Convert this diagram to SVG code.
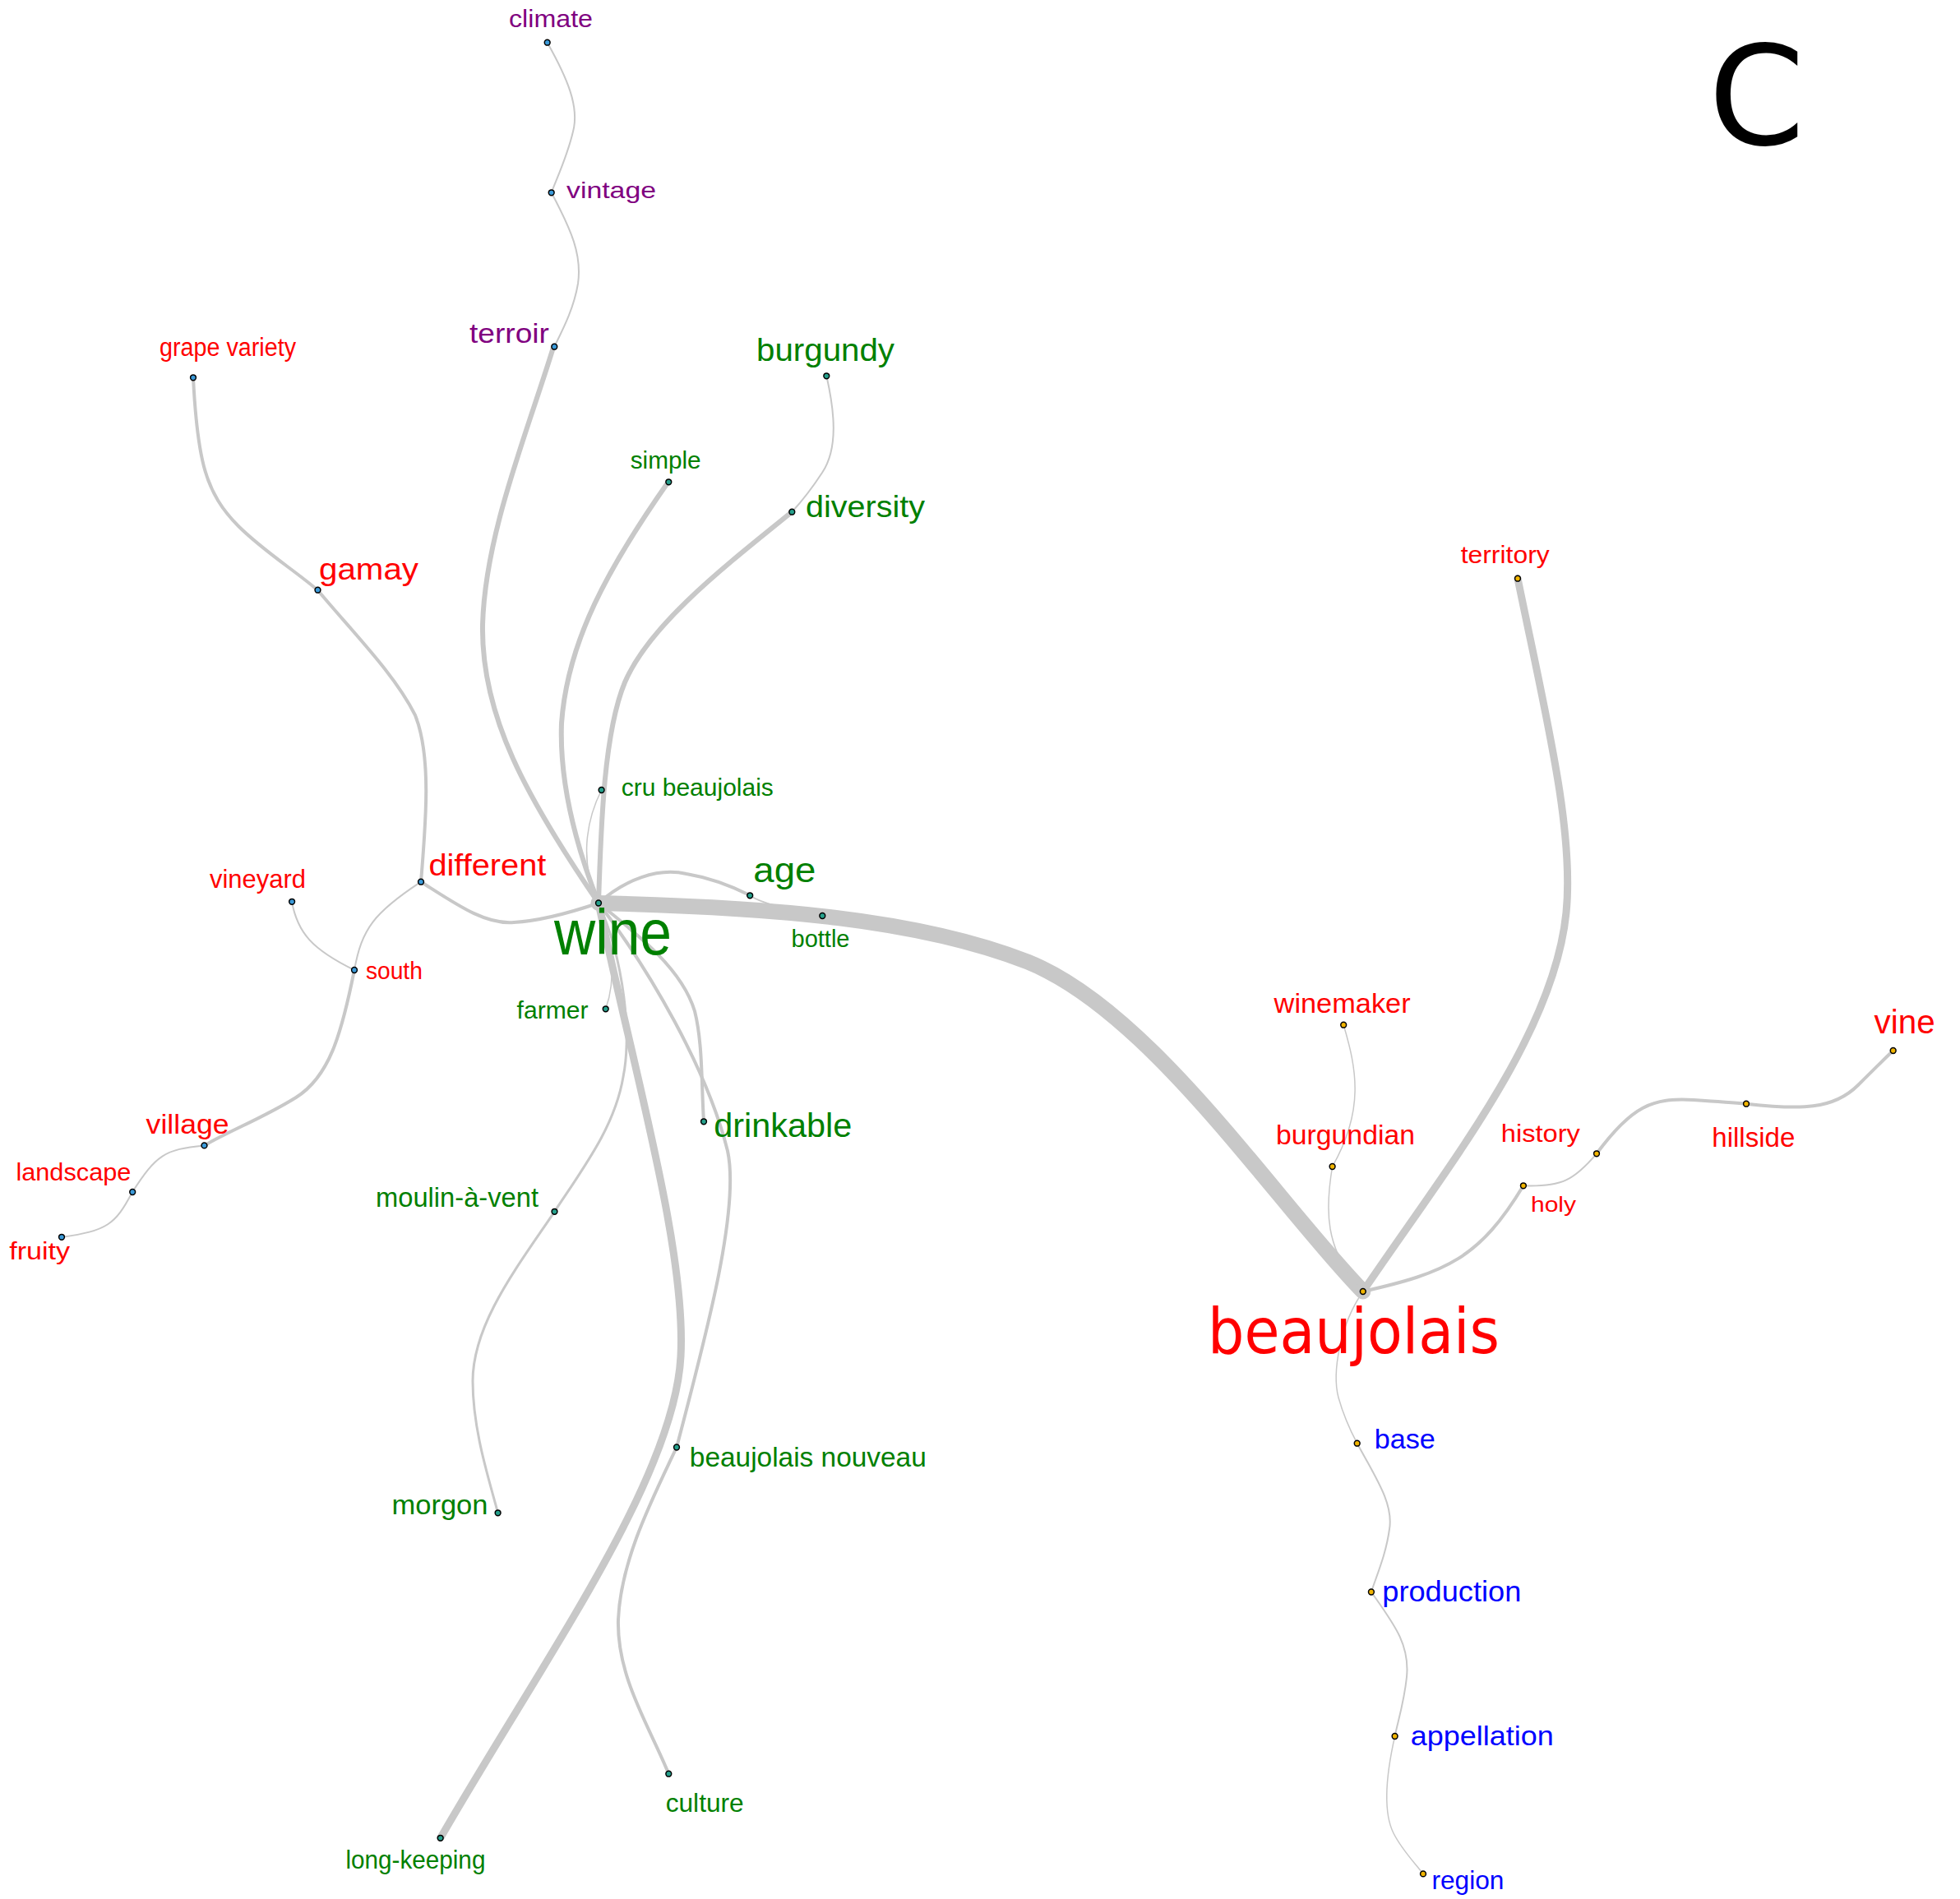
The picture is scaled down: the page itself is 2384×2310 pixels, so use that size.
<svg xmlns="http://www.w3.org/2000/svg" width="2384" height="2310" viewBox="0 0 2384 2310">
<style>
text{font-family:"Liberation Sans",Arial,sans-serif;}
.e{fill:none;stroke:#c8c8c8;stroke-linecap:round;}
.d{stroke:#000;stroke-width:1.5;}
.b{fill:#3b9ad9;}
.t{fill:#26a08c;}
.o{fill:#f0b400;}
.pu{fill:#800080;}
.gr{fill:#008000;}
.rd{fill:#ff0000;}
.bl{fill:#0000ff;}
</style>
<rect width="2384" height="2310" fill="#fff"/>
<g id="connectors">
<path class="e" stroke-width="2" d="M665.7,51.7 C690,95 705,130 697,160 C690,190 678,215 670.7,234.3"/>
<path class="e" stroke-width="2" d="M670.7,234.3 C695,280 708,310 703,345 C698,375 685,400 674.3,421.7"/>
<path class="e" stroke-width="6" d="M673.5,421 C640,530 590,650 587,760 C585,870 640,970 728,1098.5"/>
<path class="e" stroke-width="4" d="M235,459 C240,560 250,600 290,640 C320,670 360,695 386.5,718"/>
<path class="e" stroke-width="4" d="M386.5,718 C430,770 480,820 505,870 C525,920 518,1000 512,1072.7"/>
<path class="e" stroke-width="4" d="M512,1072.7 C555,1100 590,1125 625,1122 C660,1120 700,1108 728,1098.5"/>
<path class="e" stroke-width="2" d="M512,1072.7 C455,1110 440,1130 431,1180"/>
<path class="e" stroke-width="2" d="M355,1097 C362,1135 380,1155 431,1180"/>
<path class="e" stroke-width="4" d="M431,1180 C415,1260 400,1310 360,1335 C320,1360 280,1375 248.5,1393.4"/>
<path class="e" stroke-width="2" d="M248.5,1393.4 C200,1398 190,1405 161,1450"/>
<path class="e" stroke-width="2" d="M161,1450 C140,1490 130,1497 75,1505"/>
<path class="e" stroke-width="6" d="M813,586 C740,690 690,780 683,880 C680,960 705,1040 728,1098.5"/>
<path class="e" stroke-width="2" d="M1005.3,457.3 C1015,500 1020,545 1000,575 C985,598 975,610 963.3,622.7"/>
<path class="e" stroke-width="6" d="M963.3,622.7 C880,690 790,760 760,830 C735,890 731,1000 728,1098.5"/>
<path class="e" stroke-width="1.5" d="M731.6,961 C712,1000 705,1050 728,1098.5"/>
<path class="e" stroke-width="4" d="M728,1098.5 C760,1070 800,1055 835,1063 C865,1068 890,1078 912,1089"/>
<path class="e" stroke-width="2" d="M912.2,1089.3 Q930,1102 1000,1114"/>
<path class="e" stroke-width="1.5" d="M728,1098.5 C745,1150 750,1190 736.7,1227.3"/>
<path class="e" stroke-width="4" d="M728,1098.5 C780,1140 830,1180 845,1230 C855,1270 853,1320 856,1364.3"/>
<path class="e" stroke-width="4" d="M728,1098.5 C790,1180 860,1300 885,1400 C900,1470 860,1620 823,1760.5"/>
<path class="e" stroke-width="4" d="M823,1760.5 C790,1830 755,1900 752,1970 C750,2040 790,2100 813.3,2157.7"/>
<path class="e" stroke-width="3" d="M728,1098.5 C760,1170 768,1260 758,1310 C748,1370 710,1420 674.5,1473.8"/>
<path class="e" stroke-width="3" d="M674.5,1473.8 C630,1540 575,1610 575,1680 C575,1740 595,1800 605.6,1840.3"/>
<path class="e" stroke-width="9" d="M728,1098.5 C770,1300 835,1520 828,1650 C820,1800 660,2020 535.7,2235.8"/>
<path class="e" stroke-width="19" d="M728,1098.5 C920,1103 1110,1115 1250,1170 C1400,1230 1550,1460 1657.8,1571"/>
<path class="e" stroke-width="9" d="M1846,703.7 C1880,870 1915,1010 1905,1110 C1890,1260 1760,1420 1657.8,1571"/>
<path class="e" stroke-width="1.5" d="M1634.2,1246.7 C1650,1300 1660,1350 1620.6,1419"/>
<path class="e" stroke-width="1.5" d="M1620.6,1419 C1612,1470 1610,1520 1657.8,1571"/>
<path class="e" stroke-width="4" d="M1657.8,1571 C1760,1548 1800,1530 1852.9,1442.3"/>
<path class="e" stroke-width="2" d="M1852.9,1442.3 C1900,1444 1915,1435 1942,1403.3"/>
<path class="e" stroke-width="4" d="M1942,1403.3 C1985,1345 2010,1335 2060,1338 C2090,1340 2105,1341 2124,1342.7"/>
<path class="e" stroke-width="4" d="M2124,1342.7 C2190,1350 2230,1350 2260,1320 C2280,1300 2290,1290 2302.7,1278"/>
<path class="e" stroke-width="1.5" d="M1658,1571 C1630,1610 1620,1670 1628,1700 C1635,1725 1645,1745 1650.7,1755.7"/>
<path class="e" stroke-width="2" d="M1650.7,1755.7 C1675,1800 1695,1830 1690,1860 C1686,1890 1675,1915 1667.9,1936.5"/>
<path class="e" stroke-width="2" d="M1667.9,1936.5 C1695,1975 1715,2000 1711,2040 C1708,2070 1700,2095 1696.6,2112"/>
<path class="e" stroke-width="1.5" d="M1696.6,2112 C1688,2150 1680,2200 1695,2230 C1705,2250 1720,2265 1731,2279.4"/>
</g>
<g id="n-climate"><circle class="d b" cx="665.7" cy="51.7" r="3.4"/><text class="pu" x="619" y="33" font-size="29" textLength="102" lengthAdjust="spacingAndGlyphs">climate</text></g>
<g id="n-vintage"><circle class="d b" cx="670.7" cy="234.3" r="3.4"/><text class="pu" x="689" y="240.5" font-size="28" textLength="109" lengthAdjust="spacingAndGlyphs">vintage</text></g>
<g id="n-terroir"><circle class="d b" cx="674.3" cy="421.7" r="3.4"/><text class="pu" x="571" y="416.5" font-size="34" textLength="97" lengthAdjust="spacingAndGlyphs">terroir</text></g>
<g id="n-grape-variety"><circle class="d b" cx="235" cy="459.3" r="3.4"/><text class="rd" x="194" y="433" font-size="31" textLength="166" lengthAdjust="spacingAndGlyphs">grape variety</text></g>
<g id="n-gamay"><circle class="d b" cx="386.5" cy="717.7" r="3.4"/><text class="rd" x="388" y="705" font-size="37" textLength="121" lengthAdjust="spacingAndGlyphs">gamay</text></g>
<g id="n-burgundy"><circle class="d t" cx="1005.3" cy="457.3" r="3.4"/><text class="gr" x="920" y="439.3" font-size="39" textLength="168" lengthAdjust="spacingAndGlyphs">burgundy</text></g>
<g id="n-simple"><circle class="d t" cx="813.3" cy="586.3" r="3.4"/><text class="gr" x="766.7" y="570" font-size="30" textLength="86" lengthAdjust="spacingAndGlyphs">simple</text></g>
<g id="n-diversity"><circle class="d t" cx="963.3" cy="622.7" r="3.4"/><text class="gr" x="980" y="629.3" font-size="37" textLength="145" lengthAdjust="spacingAndGlyphs">diversity</text></g>
<g id="n-cru-beaujolais"><circle class="d t" cx="731.6" cy="961" r="3.4"/><text class="gr" x="755.8" y="968.3" font-size="29" textLength="185" lengthAdjust="spacingAndGlyphs">cru beaujolais</text></g>
<g id="n-different"><circle class="d b" cx="512" cy="1072.7" r="3.4"/><text class="rd" x="521.4" y="1065" font-size="37" textLength="143" lengthAdjust="spacingAndGlyphs">different</text></g>
<g id="n-age"><circle class="d t" cx="912.2" cy="1089.3" r="3.4"/><text class="gr" x="916.3" y="1073.3" font-size="43" textLength="76" lengthAdjust="spacingAndGlyphs">age</text></g>
<g id="n-bottle"><circle class="d t" cx="1000.3" cy="1114" r="3.4"/><text class="gr" x="962.5" y="1151.7" font-size="29" textLength="71" lengthAdjust="spacingAndGlyphs">bottle</text></g>
<g id="n-vineyard"><circle class="d b" cx="355.1" cy="1096.8" r="3.4"/><text class="rd" x="255" y="1080.4" font-size="32" textLength="117" lengthAdjust="spacingAndGlyphs">vineyard</text></g>
<g id="n-south"><circle class="d b" cx="431" cy="1180" r="3.4"/><text class="rd" x="444.9" y="1191" font-size="29" textLength="69" lengthAdjust="spacingAndGlyphs">south</text></g>
<g id="n-farmer"><circle class="d t" cx="736.7" cy="1227.3" r="3.4"/><text class="gr" x="628.6" y="1239" font-size="30" textLength="87" lengthAdjust="spacingAndGlyphs">farmer</text></g>
<g id="n-drinkable"><circle class="d t" cx="856" cy="1364.3" r="3.4"/><text class="gr" x="868.3" y="1383.3" font-size="40" textLength="168" lengthAdjust="spacingAndGlyphs">drinkable</text></g>
<g id="n-village"><circle class="d b" cx="248.5" cy="1393.4" r="3.4"/><text class="rd" x="177.6" y="1379" font-size="33" textLength="101" lengthAdjust="spacingAndGlyphs">village</text></g>
<g id="n-landscape"><circle class="d b" cx="161.2" cy="1450" r="3.4"/><text class="rd" x="19.4" y="1435.5" font-size="30" textLength="140" lengthAdjust="spacingAndGlyphs">landscape</text></g>
<g id="n-fruity"><circle class="d b" cx="75" cy="1504.8" r="3.4"/><text class="rd" x="11.2" y="1532" font-size="30" textLength="74" lengthAdjust="spacingAndGlyphs">fruity</text></g>
<g id="n-moulin-a-vent"><circle class="d t" cx="674.5" cy="1473.8" r="3.4"/><text class="gr" x="457" y="1467.5" font-size="33" textLength="198" lengthAdjust="spacingAndGlyphs">moulin-à-vent</text></g>
<g id="n-morgon"><circle class="d t" cx="605.6" cy="1840.3" r="3.4"/><text class="gr" x="476.5" y="1842" font-size="34" textLength="117" lengthAdjust="spacingAndGlyphs">morgon</text></g>
<g id="n-beaujolais-nouveau"><circle class="d t" cx="823" cy="1760.5" r="3.4"/><text class="gr" x="838.8" y="1783.5" font-size="33" textLength="288" lengthAdjust="spacingAndGlyphs">beaujolais nouveau</text></g>
<g id="n-culture"><circle class="d t" cx="813.3" cy="2157.7" r="3.4"/><text class="gr" x="809.7" y="2203.7" font-size="32" textLength="95" lengthAdjust="spacingAndGlyphs">culture</text></g>
<g id="n-long-keeping"><circle class="d t" cx="535.7" cy="2235.8" r="3.4"/><text class="gr" x="420.4" y="2272.6" font-size="32" textLength="170" lengthAdjust="spacingAndGlyphs">long-keeping</text></g>
<g id="n-wine"><circle class="d t" cx="728" cy="1098.5" r="3.4"/><text class="gr" x="674" y="1161" font-size="77" textLength="143" lengthAdjust="spacingAndGlyphs">wine</text></g>
<g id="n-territory"><circle class="d o" cx="1846" cy="703.7" r="3.4"/><text class="rd" x="1776.7" y="685" font-size="29" textLength="108" lengthAdjust="spacingAndGlyphs">territory</text></g>
<g id="n-winemaker"><circle class="d o" cx="1634.2" cy="1246.7" r="3.4"/><text class="rd" x="1549.6" y="1231.7" font-size="33" textLength="166" lengthAdjust="spacingAndGlyphs">winemaker</text></g>
<g id="n-burgundian"><circle class="d o" cx="1620.6" cy="1419" r="3.4"/><text class="rd" x="1552" y="1391.7" font-size="33" textLength="169" lengthAdjust="spacingAndGlyphs">burgundian</text></g>
<g id="n-history"><circle class="d o" cx="1942" cy="1403.3" r="3.4"/><text class="rd" x="1825.8" y="1389.3" font-size="30" textLength="96" lengthAdjust="spacingAndGlyphs">history</text></g>
<g id="n-holy"><circle class="d o" cx="1852.9" cy="1442.3" r="3.4"/><text class="rd" x="1862" y="1474" font-size="26" textLength="55" lengthAdjust="spacingAndGlyphs">holy</text></g>
<g id="n-hillside"><circle class="d o" cx="2124" cy="1342.7" r="3.4"/><text class="rd" x="2082.3" y="1395" font-size="33" textLength="101" lengthAdjust="spacingAndGlyphs">hillside</text></g>
<g id="n-vine"><circle class="d o" cx="2302.7" cy="1278" r="3.4"/><text class="rd" x="2279.6" y="1257.3" font-size="41" textLength="74" lengthAdjust="spacingAndGlyphs">vine</text></g>
<g id="n-beaujolais"><circle class="d o" cx="1657.8" cy="1571" r="3.4"/><text class="rd" x="1469" y="1645.7" font-size="76" textLength="355" lengthAdjust="spacingAndGlyphs" style="font-family:'DejaVu Sans',sans-serif">beaujolais</text></g>
<g id="n-base"><circle class="d o" cx="1650.7" cy="1755.7" r="3.4"/><text class="bl" x="1671.7" y="1762" font-size="34" textLength="74" lengthAdjust="spacingAndGlyphs">base</text></g>
<g id="n-production"><circle class="d o" cx="1667.9" cy="1936.5" r="3.4"/><text class="bl" x="1681.3" y="1948" font-size="35" textLength="169" lengthAdjust="spacingAndGlyphs">production</text></g>
<g id="n-appellation"><circle class="d o" cx="1696.6" cy="2112" r="3.4"/><text class="bl" x="1715.7" y="2123" font-size="34" textLength="174" lengthAdjust="spacingAndGlyphs">appellation</text></g>
<g id="n-region"><circle class="d o" cx="1731" cy="2279.4" r="3.4"/><text class="bl" x="1741.4" y="2298" font-size="32" textLength="88" lengthAdjust="spacingAndGlyphs">region</text></g>
<text x="2078" y="176" font-size="168" style="font-family:'DejaVu Sans',sans-serif" fill="#000">C</text>
</svg>
